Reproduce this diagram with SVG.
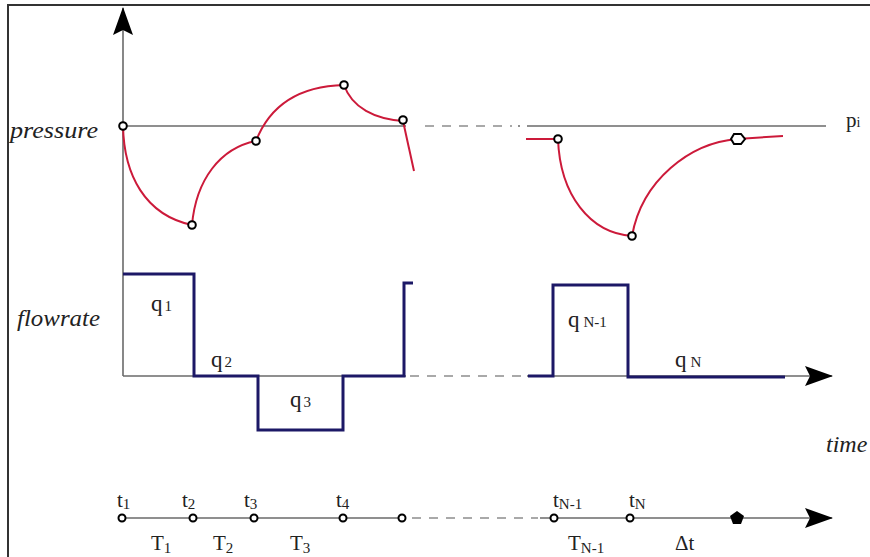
<svg xmlns="http://www.w3.org/2000/svg" width="870" height="557" viewBox="0 0 870 557">
<defs>
<style>
.ax{stroke:#6a6a6a;stroke-width:1.6;fill:none}
.dash{stroke:#555;stroke-width:1.2;stroke-dasharray:9,8;fill:none}
.red{stroke:#cc1a3a;stroke-width:2;fill:none}
.blue{stroke:#1c1866;stroke-width:3;fill:none}
.pt{fill:#fff;stroke:#000;stroke-width:2}
.lbl{font-family:"Liberation Serif","Times New Roman",serif;fill:#222}
.it{font-style:italic;font-size:24px}
.big{font-size:21px}
.q{font-size:23px}
.sub{font-size:15px}
</style>
<marker id="ah" viewBox="0 0 28 20" refX="27" refY="10" markerWidth="28" markerHeight="20" markerUnits="userSpaceOnUse" orient="auto">
<path d="M0,0 L28,10 L0,20 L5,10 Z" fill="#000"/>
</marker>
</defs>
<rect x="0" y="0" width="870" height="557" fill="#fff"/>
<g id="frame">
<path d="M8,557 L8,5 L870,5" stroke="#333" stroke-width="2" fill="none"/>
</g>
<g id="connectors">
<line class="ax" x1="123" y1="376" x2="123" y2="8" marker-end="url(#ah)"/>
<line class="ax" x1="123" y1="126" x2="406" y2="126" stroke-width="1.2"/>
<line class="dash" x1="425" y1="126" x2="512" y2="126"/>
<line class="ax" x1="518" y1="126" x2="520" y2="126" stroke-width="1.2"/>
<line class="ax" x1="527" y1="126" x2="826" y2="126" stroke-width="1.2"/>
<line class="ax" x1="123" y1="376" x2="406" y2="376"/>
<line class="dash" x1="410" y1="376" x2="522" y2="376"/>
<line class="ax" x1="527" y1="376" x2="832" y2="376" marker-end="url(#ah)"/>
<line class="ax" x1="122" y1="518" x2="402" y2="518" stroke-width="1.2"/>
<line class="dash" x1="412" y1="518" x2="538" y2="518"/>
<line class="ax" x1="540" y1="518" x2="832" y2="518" stroke-width="1.2" marker-end="url(#ah)"/>
</g>
<g id="pressure-curve">
<path class="red" d="M123,126 C124,175 145,215 192,225"/>
<path class="red" d="M192,225 C196,180 220,148 256,141"/>
<path class="red" d="M256,141 C272,100 305,86 344,85"/>
<path class="red" d="M344,85 C352,108 375,119 403,121"/>
<path class="red" d="M403,121 L414,171"/>
<path class="red" d="M526,139 L558,139"/>
<path class="red" d="M558,139 C560,195 590,233 632,236"/>
<path class="red" d="M632,236 C642,180 690,143 737,139 L783,136"/>
<circle class="pt" cx="123" cy="126" r="3.8"/>
<circle class="pt" cx="192" cy="225" r="3.8"/>
<circle class="pt" cx="256" cy="141" r="3.8"/>
<circle class="pt" cx="344" cy="85" r="3.8"/>
<circle class="pt" cx="403" cy="120" r="3.8"/>
<circle class="pt" cx="558" cy="139" r="3.8"/>
<circle class="pt" cx="632" cy="236" r="3.8"/>
<polygon class="pt" points="731,139 734,134 741,134 745,139 741,144 734,144"/>
</g>
<g id="flowrate-steps">
<path class="blue" d="M123,274 L194,274 L194,376 L258,376 L258,430 L343,430 L343,376 L404,376 L404,283 L413,283"/>
<path class="blue" d="M528,376 L553,376 L553,285 L628,285 L628,377 L785,377"/>
</g>
<g id="time-points">
<circle class="pt" cx="122" cy="518" r="3.5"/>
<circle class="pt" cx="193" cy="518" r="3.5"/>
<circle class="pt" cx="254" cy="518" r="3.5"/>
<circle class="pt" cx="343" cy="518" r="3.5"/>
<circle class="pt" cx="402" cy="518" r="3.5"/>
<circle class="pt" cx="554" cy="518" r="3.5"/>
<circle class="pt" cx="630" cy="518" r="3.5"/>
<polygon points="737,511 744,516 741,524 733,524 730,516" fill="#000"/>
</g>
<g id="labels" class="lbl">
<text class="lbl it" x="10" y="138" textLength="88" lengthAdjust="spacingAndGlyphs">pressure</text>
<text class="lbl it" x="17" y="326" textLength="83" lengthAdjust="spacingAndGlyphs">flowrate</text>
<text class="lbl it" x="826" y="452">time</text>
<text class="lbl" x="846" y="127" font-size="21">p<tspan font-size="14">i</tspan></text>
<text class="lbl q" x="151" y="311">q<tspan class="sub" dx="2">1</tspan></text>
<text class="lbl q" x="211" y="367">q<tspan class="sub" dx="2">2</tspan></text>
<text class="lbl q" x="290" y="407">q<tspan class="sub" dx="2">3</tspan></text>
<text class="lbl q" x="568" y="327">q<tspan class="sub" dx="4">N-1</tspan></text>
<text class="lbl q" x="675" y="367">q<tspan class="sub" dx="4">N</tspan></text>
<text class="lbl big" x="117" y="507">t<tspan class="sub" dy="2">1</tspan></text>
<text class="lbl big" x="182" y="507">t<tspan class="sub" dy="2">2</tspan></text>
<text class="lbl big" x="244" y="507">t<tspan class="sub" dy="2">3</tspan></text>
<text class="lbl big" x="336" y="507">t<tspan class="sub" dy="2">4</tspan></text>
<text class="lbl big" x="553" y="507">t<tspan class="sub" dy="2">N-1</tspan></text>
<text class="lbl big" x="629" y="507">t<tspan class="sub" dy="2">N</tspan></text>
<text class="lbl big" x="151" y="550">T<tspan class="sub" dy="3">1</tspan></text>
<text class="lbl big" x="213" y="550">T<tspan class="sub" dy="3">2</tspan></text>
<text class="lbl big" x="290" y="550">T<tspan class="sub" dy="3">3</tspan></text>
<text class="lbl big" x="568" y="550">T<tspan class="sub" dy="3">N-1</tspan></text>
<text class="lbl big" x="675" y="550">Δt</text>
</g>
</svg>
